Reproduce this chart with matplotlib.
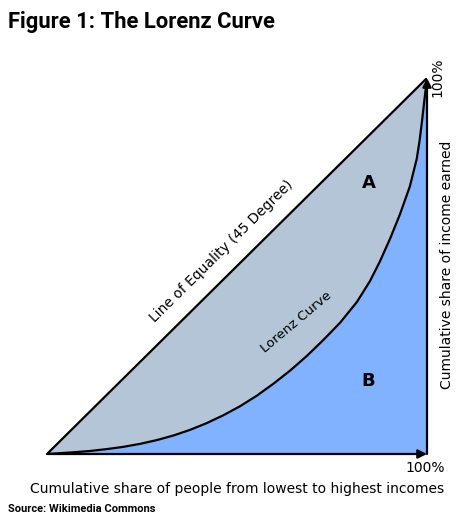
import numpy as np
import matplotlib
matplotlib.use("Agg")
import matplotlib.pyplot as plt

# Lorenz curve points (share of people, share of income)
people = [0.0, 0.069, 0.113, 0.157, 0.201, 0.245, 0.289, 0.332, 0.376, 0.420, 0.464,
          0.508, 0.552, 0.596, 0.640, 0.684, 0.728, 0.772, 0.816, 0.850, 0.876, 0.903,
          0.929, 0.955, 0.973, 0.980, 0.986, 0.993, 1.0]
income = [0.0, 0.0045, 0.008, 0.013, 0.019, 0.027, 0.037, 0.049, 0.064, 0.082, 0.103,
          0.127, 0.155, 0.187, 0.222, 0.261, 0.304, 0.350, 0.405, 0.460, 0.512, 0.573,
          0.638, 0.712, 0.785, 0.830, 0.878, 0.940, 1.0]

equality = [0.0, 1.0]

title = "Figure 1: The Lorenz Curve"
source = "Source: Wikimedia Commons"
xlabel = "Cumulative share of people from lowest to highest incomes"
ylabel = "Cumulative share of income earned"

grey = "#b3c5d6"
blue = "#80b2ff"

fig = plt.figure(figsize=(4.74, 5.18), dpi=100)
ax = fig.add_axes([47 / 474, 64 / 518, 380 / 474, 376 / 518])
ax.set_xlim(0, 1)
ax.set_ylim(0, 1)
ax.axis("off")

x = np.array(people)
y = np.array(income)
# area A between equality line and curve, area B below curve
ax.fill_between(x, y, x, color=grey, lw=0)
ax.fill_between(x, 0, y, color=blue, lw=0)

ax.plot(equality, equality, color="black", lw=1.6, solid_capstyle="butt")
ax.plot(x, y, color="black", lw=1.6, solid_joinstyle="round")

# axes arrows
ax.annotate("", xy=(1.0, 0.0), xytext=(0.0, 0.0),
            arrowprops=dict(arrowstyle="-|>", color="black", lw=1.6, mutation_scale=13,
                            shrinkA=0, shrinkB=0), annotation_clip=False)
ax.annotate("", xy=(1.0, 1.0), xytext=(1.0, 0.0),
            arrowprops=dict(arrowstyle="-|>", color="black", lw=1.6, mutation_scale=13,
                            shrinkA=0, shrinkB=0), annotation_clip=False)

ax.text(0.46, 0.54, "Line of Equality (45 Degree)", rotation=44.7, ha="center", va="center",
        fontsize=10, family="DejaVu Sans")
ax.text(0.655, 0.35, "Lorenz Curve", rotation=40, ha="center", va="center",
        fontsize=9.5, family="DejaVu Sans")
ax.text(0.847, 0.72, "A", ha="center", va="center", fontsize=13, fontweight="bold",
        family="DejaVu Sans")
ax.text(0.845, 0.195, "B", ha="center", va="center", fontsize=13, fontweight="bold",
        family="DejaVu Sans")

fig.text(437 / 474, 1 - 77 / 518, "100%", rotation=90, ha="center", va="center", fontsize=10,
         family="DejaVu Sans")
fig.text(425 / 474, 1 - 468 / 518, "100%", ha="center", va="center", fontsize=10,
         family="DejaVu Sans")
fig.text(447 / 474, 1 - 265 / 518, ylabel, rotation=90, ha="center", va="center", fontsize=10,
         family="DejaVu Sans")
fig.text(237 / 474, 1 - 489 / 518, xlabel, ha="center", va="center", fontsize=10,
         family="DejaVu Sans")

fig.text(8 / 474, 1 - 22 / 518, title, ha="left", va="center", fontsize=15.8, fontweight="bold",
         family="Roboto")
fig.text(8 / 474, 1 - 509 / 518, source, ha="left", va="center", fontsize=8,
         fontweight="bold", family="Roboto")

fig.savefig("out.png", dpi=100)
